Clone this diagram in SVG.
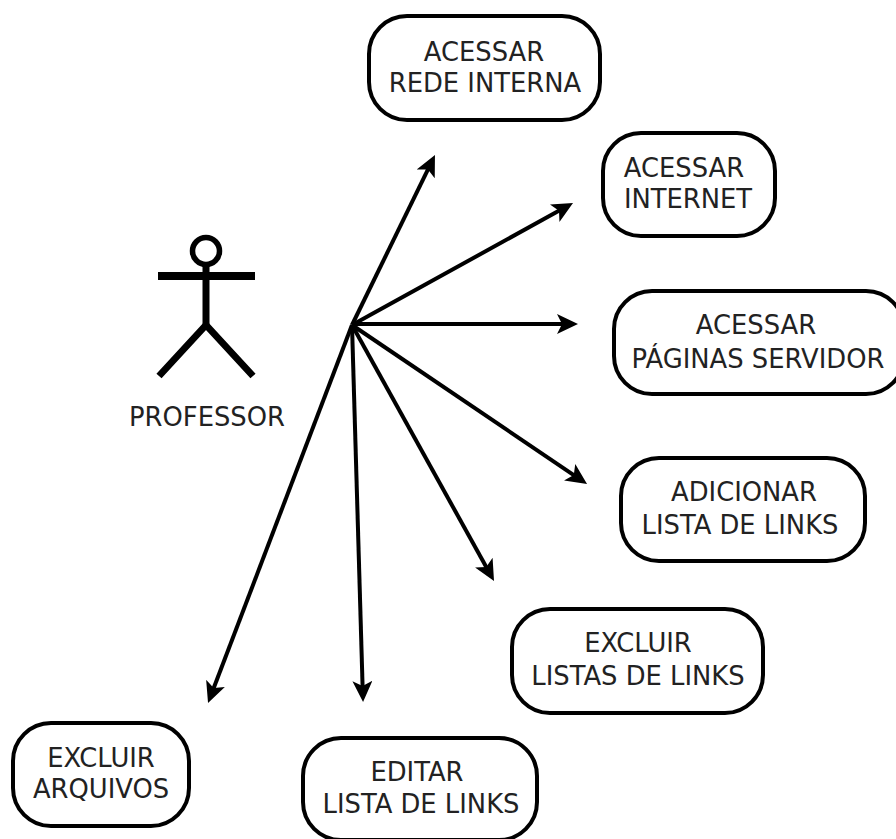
<svg xmlns="http://www.w3.org/2000/svg" width="896" height="839" viewBox="0 0 896 839">
<style>
.n{fill:#fff;stroke:#000;stroke-width:4}
.t{font-family:"DejaVu Sans",sans-serif;font-size:25.8px;fill:#222;text-anchor:middle}
.b{fill:none;stroke:#000;stroke-width:7}
.a{stroke:#000;stroke-width:4;fill:none}
</style>
<defs><marker id="h" viewBox="0 0 21 20" refX="9" refY="10" markerWidth="21" markerHeight="20" markerUnits="userSpaceOnUse" orient="auto"><path d="M0 0L21 10L0 20L5 10Z" fill="#000"/></marker></defs>
<rect width="896" height="839" fill="#fff"/>
<g id="connectors">
<path class="a" d="M352 325L429.700 165.800" marker-end="url(#h)"/>
<path class="a" d="M352 325L562.500 208.800" marker-end="url(#h)"/>
<path class="a" d="M352 324L566 324" marker-end="url(#h)"/>
<path class="a" d="M352 325L577.100 477.300" marker-end="url(#h)"/>
<path class="a" d="M352 325L488.200 570.500" marker-end="url(#h)"/>
<path class="a" d="M352 325L362.700 690" marker-end="url(#h)"/>
<path class="a" d="M352 325L212.300 691.800" marker-end="url(#h)"/>
</g>
<g id="professor">
<circle cx="206" cy="251" r="13.500" fill="none" stroke="#000" stroke-width="5.500"/>
<path class="b" d="M206 264V325"/>
<path class="b" d="M158 276H255" style="stroke-width:8"/>
<path class="b" d="M206 325L159 376M206 325L253 376"/>
<text class="t" x="207" y="426">PROFESSOR</text>
</g>
<g id="n1"><rect class="n" x="369" y="16" width="231" height="104" rx="38"/><text class="t" x="484" y="61">ACESSAR</text><text class="t" x="485" y="92">REDE INTERNA</text></g>
<g id="n2"><rect class="n" x="603" y="133" width="172" height="103" rx="38"/><text class="t" x="684" y="177">ACESSAR</text><text class="t" x="688" y="208">INTERNET</text></g>
<g id="n3"><rect class="n" x="614" y="291" width="290" height="103" rx="38"/><text class="t" x="756" y="334">ACESSAR</text><text class="t" x="758" y="368">PÁGINAS SERVIDOR</text></g>
<g id="n4"><rect class="n" x="621" y="458" width="244" height="103" rx="38"/><text class="t" x="744" y="501">ADICIONAR</text><text class="t" x="740" y="534">LISTA DE LINKS</text></g>
<g id="n5"><rect class="n" x="512" y="609" width="251" height="104" rx="38"/><text class="t" x="638" y="652">EXCLUIR</text><text class="t" x="638" y="685">LISTAS DE LINKS</text></g>
<g id="n6"><rect class="n" x="303" y="738" width="234" height="102" rx="38"/><text class="t" x="417" y="781">EDITAR</text><text class="t" x="421" y="813">LISTA DE LINKS</text></g>
<g id="n7"><rect class="n" x="13" y="723" width="176" height="103" rx="38"/><text class="t" x="101" y="767">EXCLUIR</text><text class="t" x="101" y="798">ARQUIVOS</text></g>
</svg>
